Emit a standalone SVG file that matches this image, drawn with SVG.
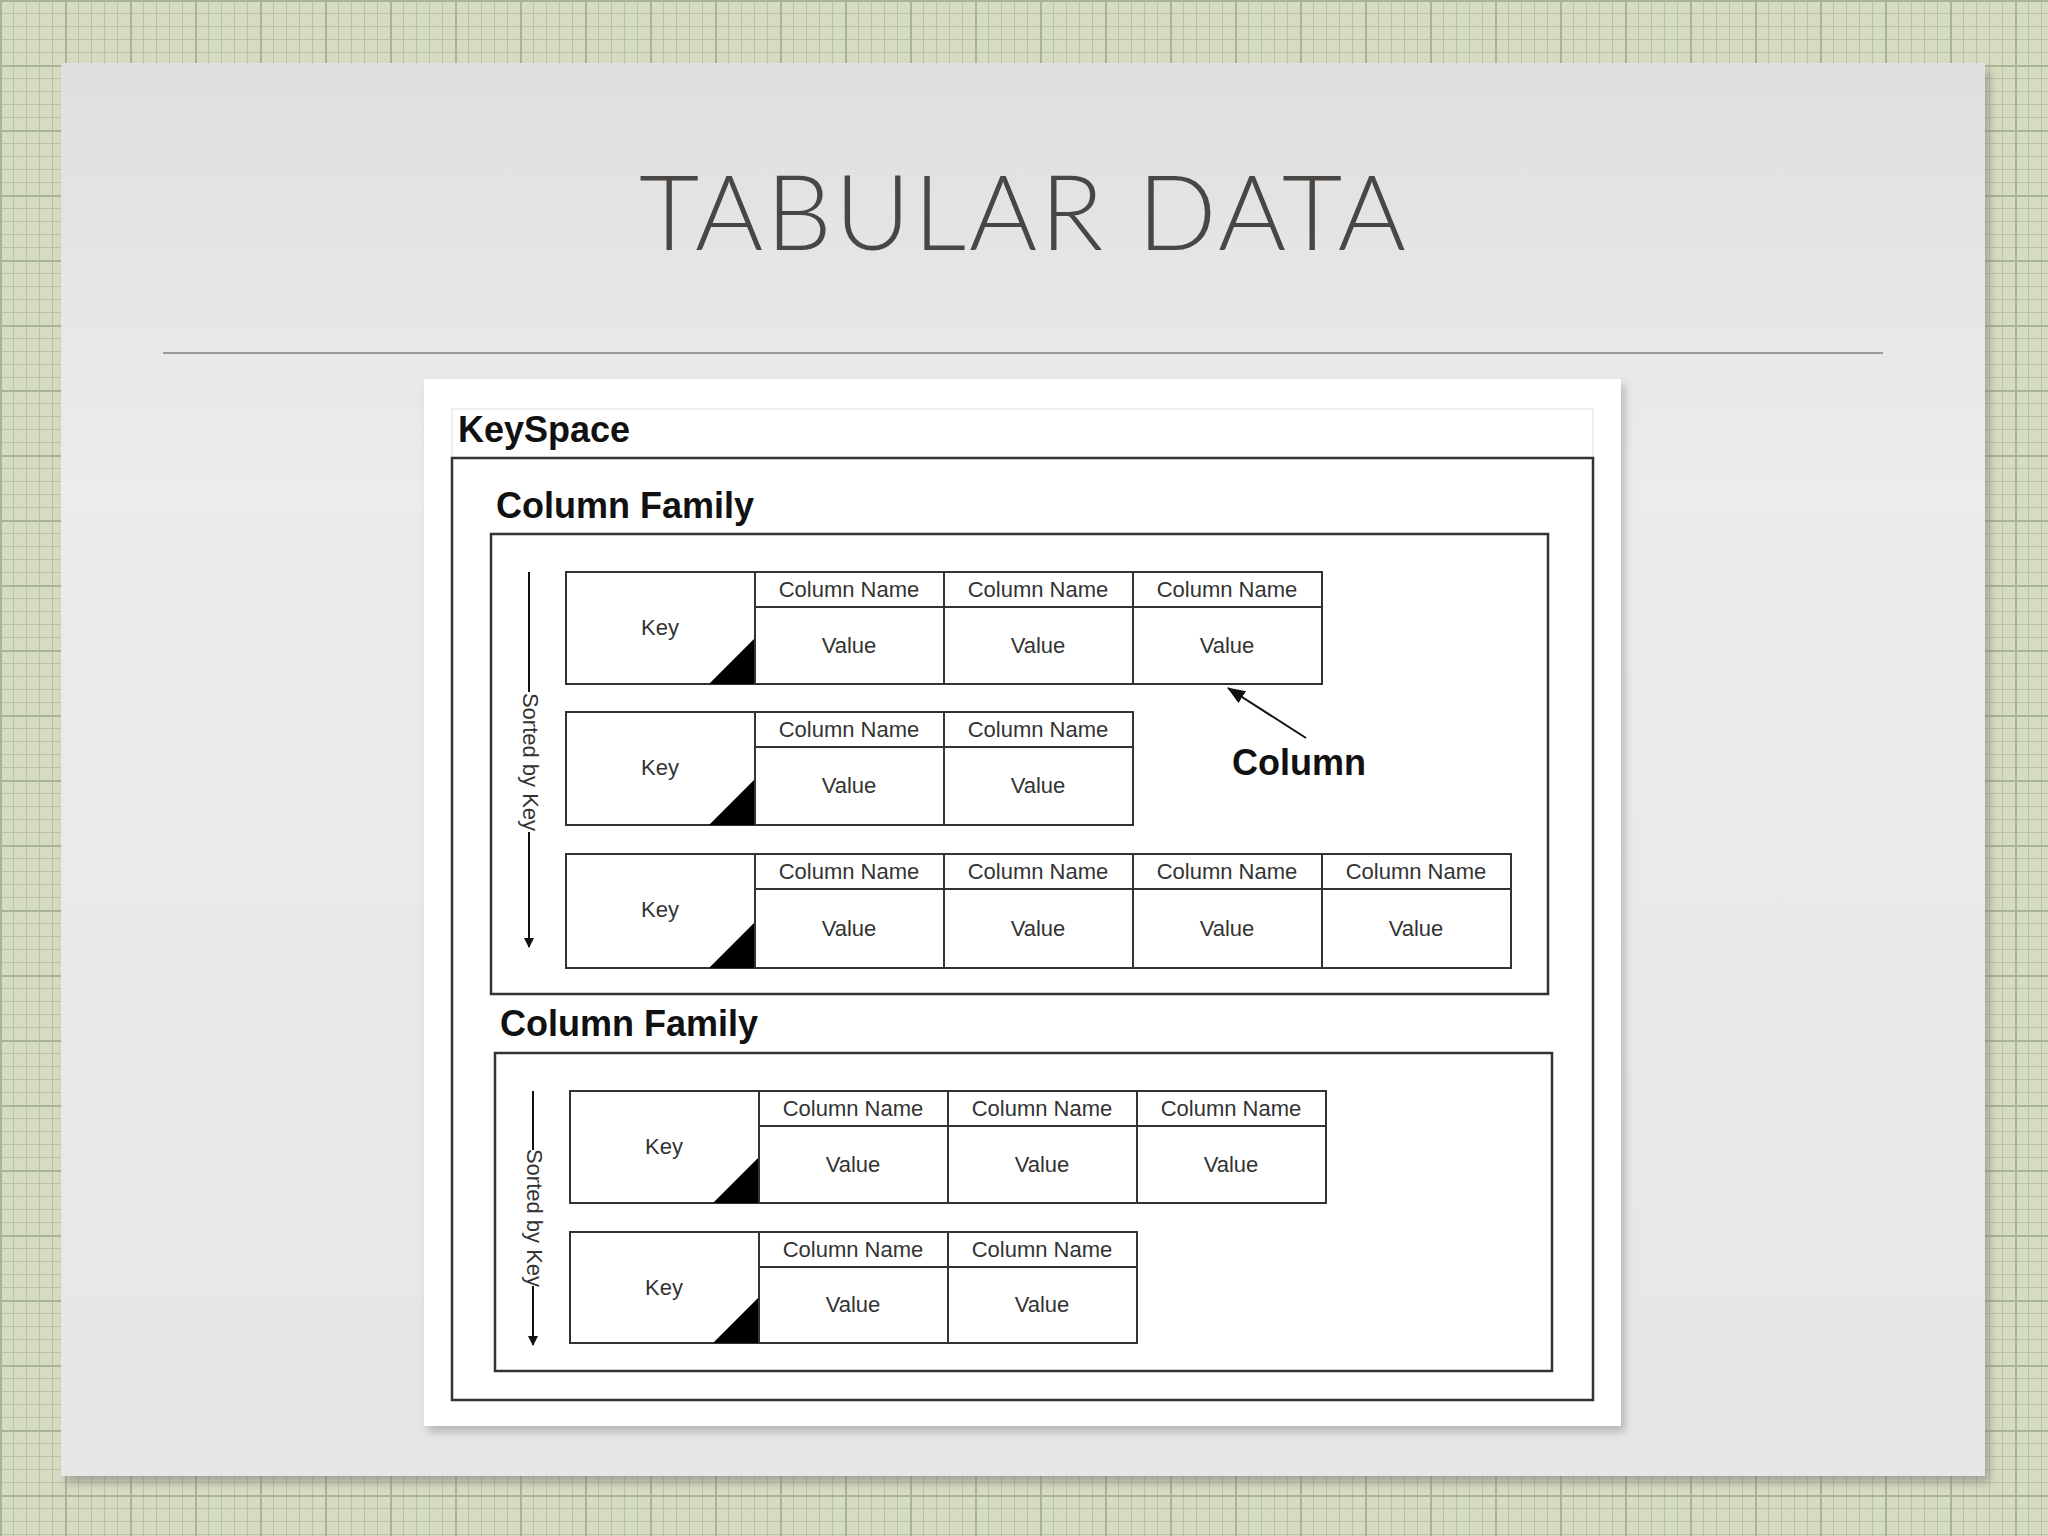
<svg xmlns="http://www.w3.org/2000/svg" width="2048" height="1536" viewBox="0 0 2048 1536">
<defs>
<pattern id="grid" width="13" height="13" patternUnits="userSpaceOnUse">
<rect width="13" height="13" fill="#d6dcc2"/>
<path d="M0 0.5H13M0.5 0V13" stroke="#b9c2a2" stroke-width="1"/>
</pattern>
<pattern id="grid2" width="65" height="65" patternUnits="userSpaceOnUse">
<path d="M0 1H65M1 0V65" stroke="#aab490" stroke-width="2" fill="none"/>
</pattern>
<linearGradient id="slide" x1="0" y1="0" x2="0" y2="1">
<stop offset="0" stop-color="#dedfde"/><stop offset="0.3" stop-color="#ececec"/><stop offset="1" stop-color="#e6e6e6"/>
</linearGradient>
<marker id="ah" markerWidth="10" markerHeight="10" refX="9" refY="5" orient="auto" markerUnits="userSpaceOnUse" viewBox="0 0 10 10">
<path d="M0 0L10 5L0 10z" fill="#111"/>
</marker>
<marker id="ah2" markerWidth="18" markerHeight="14" refX="17" refY="7" orient="auto" markerUnits="userSpaceOnUse" viewBox="0 0 18 14">
<path d="M0 0L18 7L0 14z" fill="#111"/>
</marker>
<filter id="sh" x="-5%" y="-5%" width="110%" height="110%"><feGaussianBlur stdDeviation="4"/></filter>
</defs>
<style>
.cell{fill:#fff;stroke:#333;stroke-width:2}
.box{fill:none;stroke:#333;stroke-width:2.5}
.t{font-family:"Liberation Sans",Arial,sans-serif;fill:#333;text-anchor:middle;font-size:22px}
.h{font-family:"Liberation Sans",Arial,sans-serif;font-weight:bold;fill:#111;font-size:36px}
.tri{fill:#000}
</style>
<rect width="2048" height="1536" fill="url(#grid)"/>
<rect width="2048" height="1536" fill="url(#grid2)"/>
<rect x="66" y="70" width="1924" height="1413" fill="#777" opacity="0.5" filter="url(#sh)"/>
<rect x="61" y="63" width="1924" height="1413" fill="url(#slide)"/>
<text x="1024" y="250" text-anchor="middle" font-family="Lato, 'Open Sans', sans-serif" font-weight="300" font-size="104" fill="#4a4644" letter-spacing="3">TABULAR DATA</text>
<line x1="163" y1="353" x2="1883" y2="353" stroke="#999" stroke-width="2"/>
<rect x="428" y="385" width="1197" height="1047" fill="#888" opacity="0.5" filter="url(#sh)"/>
<rect x="424" y="379" width="1197" height="1047" fill="#fff"/>
<g id="keyspace">
<rect x="452" y="409" width="1141" height="991" fill="none" stroke="#ddd" stroke-width="1"/>
<rect x="452" y="458" width="1141" height="942" class="box"/>
<text x="458" y="442" class="h" font-size="34">KeySpace</text>
</g>
<g id="cf1">
<text x="496" y="518" class="h">Column Family</text>
<rect x="491" y="534" width="1057" height="460" class="box"/>
</g>
<g id="cf1-row1">
<rect x="566" y="572" width="189" height="112" class="cell"/>
<path d="M709 684L755 638V684z" class="tri"/>
<text x="660" y="635" class="t">Key</text>
<rect x="755" y="572" width="189" height="35" class="cell"/><rect x="755" y="607" width="189" height="77" class="cell"/>
<rect x="944" y="572" width="189" height="35" class="cell"/><rect x="944" y="607" width="189" height="77" class="cell"/>
<rect x="1133" y="572" width="189" height="35" class="cell"/><rect x="1133" y="607" width="189" height="77" class="cell"/>
<text x="849" y="597" class="t">Column Name</text><text x="849" y="653" class="t">Value</text>
<text x="1038" y="597" class="t">Column Name</text><text x="1038" y="653" class="t">Value</text>
<text x="1227" y="597" class="t">Column Name</text><text x="1227" y="653" class="t">Value</text>
</g>
<g id="cf1-row2">
<rect x="566" y="712" width="189" height="113" class="cell"/>
<path d="M709 825L755 779V825z" class="tri"/>
<text x="660" y="775" class="t">Key</text>
<rect x="755" y="712" width="189" height="35" class="cell"/><rect x="755" y="747" width="189" height="78" class="cell"/>
<rect x="944" y="712" width="189" height="35" class="cell"/><rect x="944" y="747" width="189" height="78" class="cell"/>
<text x="849" y="737" class="t">Column Name</text><text x="849" y="793" class="t">Value</text>
<text x="1038" y="737" class="t">Column Name</text><text x="1038" y="793" class="t">Value</text>
</g>
<g id="cf1-row3">
<rect x="566" y="854" width="189" height="114" class="cell"/>
<path d="M709 968L755 922V968z" class="tri"/>
<text x="660" y="917" class="t">Key</text>
<rect x="755" y="854" width="189" height="35" class="cell"/><rect x="755" y="889" width="189" height="79" class="cell"/>
<rect x="944" y="854" width="189" height="35" class="cell"/><rect x="944" y="889" width="189" height="79" class="cell"/>
<rect x="1133" y="854" width="189" height="35" class="cell"/><rect x="1133" y="889" width="189" height="79" class="cell"/>
<rect x="1322" y="854" width="189" height="35" class="cell"/><rect x="1322" y="889" width="189" height="79" class="cell"/>
<text x="849" y="879" class="t">Column Name</text><text x="849" y="936" class="t">Value</text>
<text x="1038" y="879" class="t">Column Name</text><text x="1038" y="936" class="t">Value</text>
<text x="1227" y="879" class="t">Column Name</text><text x="1227" y="936" class="t">Value</text>
<text x="1416" y="879" class="t">Column Name</text><text x="1416" y="936" class="t">Value</text>
</g>
<g id="column-label">
<text x="1232" y="775" class="h" font-size="34">Column</text>
</g>
<g id="cf2">
<text x="500" y="1036" class="h">Column Family</text>
<rect x="495" y="1053" width="1057" height="318" class="box"/>
</g>
<g id="cf2-row1">
<rect x="570" y="1091" width="189" height="112" class="cell"/>
<path d="M713 1203L759 1157V1203z" class="tri"/>
<text x="664" y="1154" class="t">Key</text>
<rect x="759" y="1091" width="189" height="35" class="cell"/><rect x="759" y="1126" width="189" height="77" class="cell"/>
<rect x="948" y="1091" width="189" height="35" class="cell"/><rect x="948" y="1126" width="189" height="77" class="cell"/>
<rect x="1137" y="1091" width="189" height="35" class="cell"/><rect x="1137" y="1126" width="189" height="77" class="cell"/>
<text x="853" y="1116" class="t">Column Name</text><text x="853" y="1172" class="t">Value</text>
<text x="1042" y="1116" class="t">Column Name</text><text x="1042" y="1172" class="t">Value</text>
<text x="1231" y="1116" class="t">Column Name</text><text x="1231" y="1172" class="t">Value</text>
</g>
<g id="cf2-row2">
<rect x="570" y="1232" width="189" height="111" class="cell"/>
<path d="M713 1343L759 1297V1343z" class="tri"/>
<text x="664" y="1295" class="t">Key</text>
<rect x="759" y="1232" width="189" height="35" class="cell"/><rect x="759" y="1267" width="189" height="76" class="cell"/>
<rect x="948" y="1232" width="189" height="35" class="cell"/><rect x="948" y="1267" width="189" height="76" class="cell"/>
<text x="853" y="1257" class="t">Column Name</text><text x="853" y="1312" class="t">Value</text>
<text x="1042" y="1257" class="t">Column Name</text><text x="1042" y="1312" class="t">Value</text>
</g>
<g id="connectors" stroke="#111" stroke-width="2" fill="none">
<path d="M529 572V692M529 832V947" marker-end="url(#ah)"/>
<path d="M533 1091V1150M533 1286V1345" marker-end="url(#ah)"/>
<path d="M1306 738L1228 688" marker-end="url(#ah2)"/>
</g>
<g id="sort-labels">
<text class="t" transform="translate(523 762) rotate(90)">Sorted by Key</text>
<text class="t" transform="translate(527 1218) rotate(90)">Sorted by Key</text>
</g>
</svg>
